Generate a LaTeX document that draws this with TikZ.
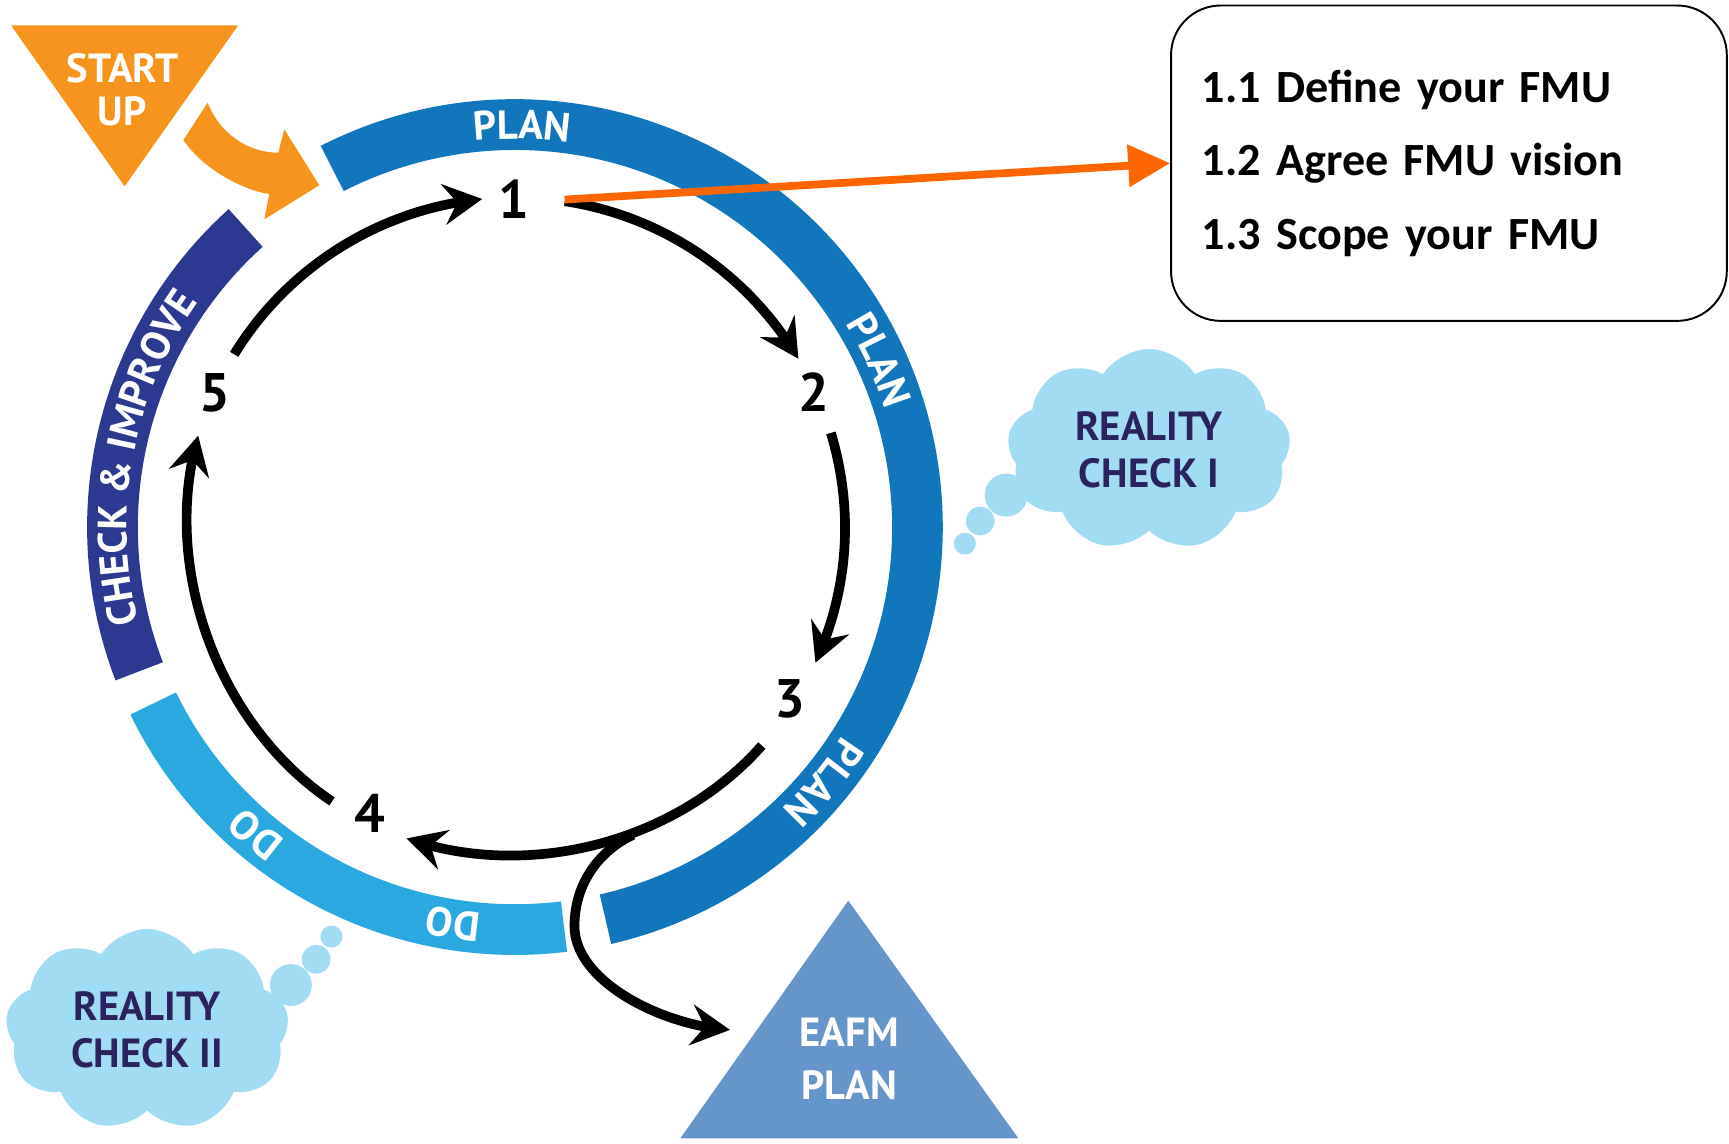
\documentclass[tikz,border=0pt]{standalone}
\usepackage{fontspec}
\setmainfont{Carlito}
\newfontfamily\ptsans{PT Sans}
\usetikzlibrary{arrows.meta,bending,decorations.text,shapes.symbols}

\definecolor{planblue}{HTML}{1276BC}
\definecolor{checknavy}{HTML}{2B3990}
\definecolor{doblue}{HTML}{29A9E0}
\definecolor{startorange}{HTML}{F7941D}
\definecolor{eafmblue}{HTML}{6496CB}
\definecolor{cloudblue}{HTML}{A0DDF5}
\definecolor{cloudtext}{HTML}{2B2360}
\definecolor{lineorange}{HTML}{FF6600}

\newcommand\lblfont{\ptsans\bfseries\fontsize{10.5}{12}\selectfont}
\newcommand\numfont{\ptsans\bfseries\fontsize{14}{14}\selectfont}
\newcommand\boxfont{\bfseries\fontsize{11.9}{18.9}\selectfont}

\tikzset{
  cyc/.style={line width=2.5pt, -{Stealth[length=10pt,width=10.5pt,inset=3.5pt]}},
  pointer/.style={line width=2pt, lineorange, -{Triangle[length=10.8pt,width=10.5pt]}},
  num/.style={font=\numfont, inner sep=1pt},
  lbl/.style={font=\lblfont, text=white, align=center},
  thought/.style={cloud, cloud puffs=9, cloud puff arc=115, cloud ignores aspect,
    fill=cloudblue, text=cloudtext, font=\lblfont, align=center,
    minimum width=25.7mm, minimum height=18.3mm, inner sep=0pt},
  stepsbox/.style={draw, line width=0.5pt, rounded corners=4.5mm,
    minimum width=50.4mm, minimum height=28.6mm, text width=44.8mm,
    inner sep=0pt, align=left, font=\boxfont},
}

\begin{document}
\begin{tikzpicture}[x=0.1mm, y=0.1mm]
\useasboundingbox (0,0) rectangle (1568,1037);

% ring of phases
\coordinate (ctr) at (467,559);
\begin{scope}[shift={(ctr)}]
\foreach \a/\b/\col in {117/-77/planblue, 132/201/checknavy, 206/277/doblue}{
\fill[\col] (\a:388) arc[start angle=\a, end angle=\b, radius=388]
  -- (\b:342) arc[start angle=\b, end angle=\a, radius=342] -- cycle;
}
\foreach \a/\txt in {89/PLAN, 24.6/PLAN, -39.6/PLAN, -98.9/DO, -130.2/DO}{
\pgfmathsetmacro\sa{\a+20}
\pgfmathsetmacro\ea{\a-20}
\path[decorate, decoration={text along path, text/.expanded={|\noexpand\lblfont|\txt},
  text align=center, text color=white}] (\sa:352) arc[start angle=\sa, end angle=\ea, radius=352];
}
\path[decorate, decoration={text along path, text={|\lblfont|CHECK {\&} IMPROVE},
  text align=center, text color=white}] (209.4:352) arc[start angle=209.4, end angle=129.4, radius=352];

% steps 1 to 5
\foreach \s/\e [count=\i] in {81.3/30.7, 16.6/-24.3, -41.5/-109.2, 236.3/163.9, 148.4/95.7}{
\pgfmathsetmacro\bnd{(\s-\e)/2}
\coordinate (s\i) at (\s:299);
\coordinate (e\i) at (\e:299);
\draw[cyc] (s\i) to[bend left=\bnd, looseness=0.9] (e\i);
}
\coordinate (fork) at (-69:299);
\end{scope}

\node[num] (n1) at (466,856) {1};
\node[num] (n2) at (738,681) {2};
\node[num] (n3) at (716,403) {3};
\node[num] (n4) at (335,299) {4};
\node[num] (n5) at (195,681) {5};

% start up
\fill[startorange] (10,1014) -- (216,1014) -- (113,868) -- cycle;
\node[lbl] (start) at (111,955.5) {START\\[-0.9pt]UP};
\fill[startorange] (166.3,910) -- (188.3,943.9) .. controls (200,914) and (227,898.5) .. (252.4,898.5)
  -- (257.8,919.7) -- (289.6,869) -- (239.7,838.1) -- (244.2,861)
  .. controls (214,866) and (181,888) .. (166.3,910) -- cycle;

% eafm plan
\fill[eafmblue] (617,4.7) -- (923.5,4.7) -- (769.3,220.2) -- cycle;
\node[lbl] (eafm) at (770,76.5) {EAFM\\[1.7pt]PLAN};
\coordinate (eafmin) at (662,103);
\draw[cyc] (fork) .. controls (548,268) and (521,240) .. (521,197)
  .. controls (521,147) and (600,107) .. (eafmin);

% step 1 details
\coordinate (o1) at (512,856);
\node[stepsbox] (steps) at (1314,889) {1.1 Define your FMU\\1.2 Agree FMU vision\\1.3 Scope your FMU};
\draw[pointer] (o1) -- (steps.west);

% reality checks
\node[thought] (rc1) at (1042,629) {REALITY\\CHECK I};
\node[thought] (rc2) at (133.5,103) {REALITY\\CHECK II};
\foreach \x/\y/\r in {912.5/588/19.5, 889/564.5/13, 875/544/10, 263.8/143.7/19, 286.7/167/13, 300.6/187.6/10}
\fill[cloudblue] (\x,\y) circle[radius=\r];
\end{tikzpicture}
\end{document}
